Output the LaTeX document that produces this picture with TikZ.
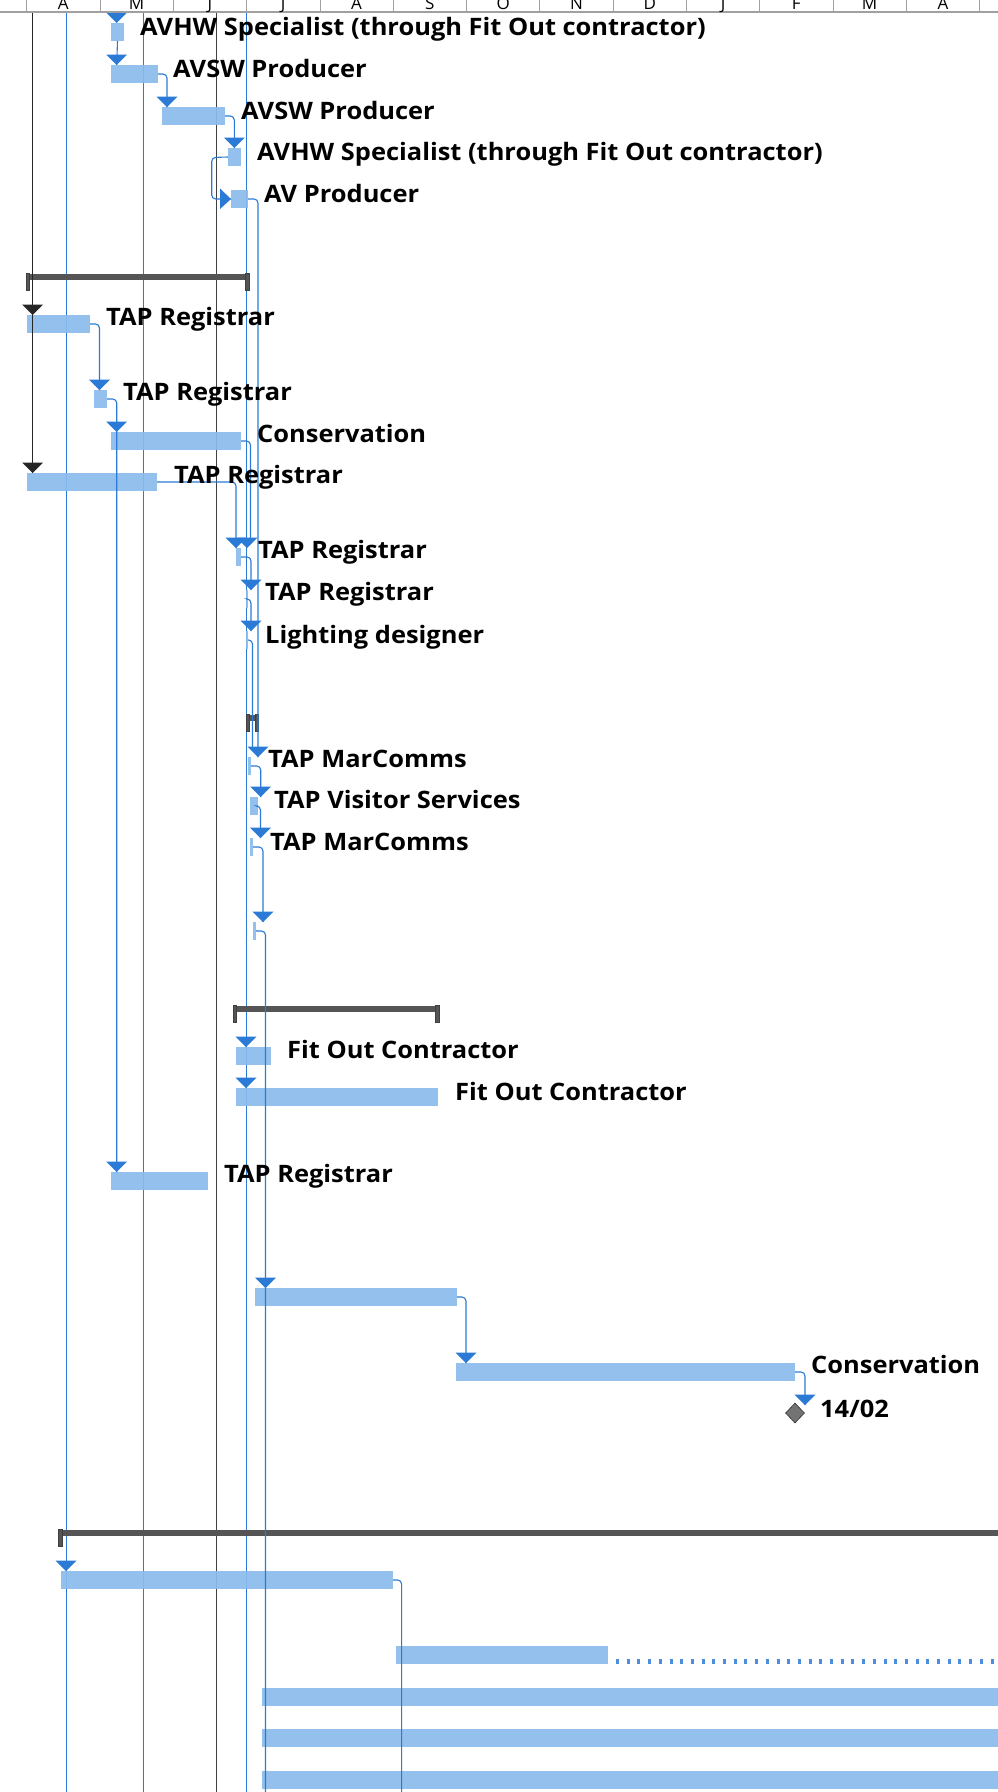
\documentclass[tikz,border=0pt]{standalone}
\usepackage{fontspec}
\setmainfont{Open Sans}
\newfontfamily\lblfont[FakeStretch=1.06]{Open Sans}
\usetikzlibrary{shapes.geometric}
\definecolor{barblue}{HTML}{8ABBEB}
\definecolor{linkblue}{HTML}{2B7BD6}
\definecolor{sumgray}{HTML}{555555}
\definecolor{hdrgray}{HTML}{A0A0A0}
\tikzset{
  gbar/.style={rectangle, fill=barblue, fill opacity=0.92, inner sep=0pt, outer sep=0pt, minimum height=18pt, anchor=north west},
  sumline/.style={rectangle, fill=sumgray, inner sep=0pt, outer sep=0pt, minimum height=6pt, anchor=north west},
  sumcap/.style={rectangle, fill=sumgray, draw=black!75, line width=0.6pt, inner sep=0pt, outer sep=0pt, minimum width=3.5pt, minimum height=17pt, anchor=north west},
  link/.style={draw=linkblue, line width=1.1pt, rounded corners=4pt},
  longline/.style={draw=linkblue, line width=1pt},
  blackline/.style={draw=black!85, line width=1.3pt},
  greyline/.style={draw=black!75, line width=0.9pt},
  lbl/.style={anchor=base west, inner sep=0pt, font=\lblfont\bfseries\fontsize{24}{24}\selectfont},
  hdrtxt/.style={anchor=base, inner sep=0pt, font=\fontsize{17}{17}\selectfont},
}
\newcommand\ganttbar[4]{\node[gbar, minimum width={#3-#2}] (#1) at (#2,#4) {};}
\newcommand\ganttarrow[3]{\fill[#3] (#1-10.5,#2-10.5) -- (#1+10.5,#2-10.5) -- (#1,#2) -- cycle;}
\newcommand\summarybar[4]{%
  \node[sumline, minimum width={#3-#2}] (#1) at (#2,#4) {};
  \node[sumcap] (#1l) at (#2,#4-1) {};
  \node[sumcap] (#1r) at (#3-3.5,#4-1) {};}
\begin{document}
\begin{tikzpicture}[x=1pt,y=-1pt]
\useasboundingbox (0,0) rectangle (998,1792);
\clip (0,0) rectangle (998,1792);
\fill[white] (0,0) rectangle (998,1792);

% ---------- long vertical lines ----------
\coordinate (top1) at (66.7,12);  \coordinate (bot1) at (66.7,1792);
\coordinate (top2) at (143.3,12); \coordinate (bot2) at (143.3,1792);
\coordinate (top3) at (216,12);   \coordinate (bot3) at (216,1792);
\coordinate (top4) at (246,12);   \coordinate (bot4) at (246,1792);
\coordinate (top0) at (32.7,12);
\draw[longline] (top1) -- (bot1);
\draw[longline] (top2) -- (bot2);
\draw[greyline] (top3) -- (bot3);
\draw[longline] (top4) -- (bot4);

% ---------- arrow tip coordinates ----------
\coordinate (t0) at (116.7,23);
\coordinate (t1) at (116.7,65);
\coordinate (t2) at (167,107);
\coordinate (t3) at (234.3,148);
\coordinate (t4) at (231,199);
\coordinate (t7) at (32.7,315);
\coordinate (t8) at (99.5,390);
\coordinate (t9) at (116.7,432);
\coordinate (t10) at (32.7,473);
\coordinate (t11a) at (236,548);
\coordinate (t11b) at (247,548);
\coordinate (t12) at (251,590);
\coordinate (t13) at (251,631);
\coordinate (t15) at (258,757);
\coordinate (t16) at (260.7,797);
\coordinate (t17) at (260.5,838);
\coordinate (t19) at (263,922);
\coordinate (t22) at (246,1047);
\coordinate (t23) at (246,1088);
\coordinate (t25) at (116.7,1172);
\coordinate (t27) at (265.5,1288);
\coordinate (t28) at (466,1363);
\coordinate (tms) at (805,1405);
\coordinate (t32) at (66,1571);
\coordinate (bot5) at (265.5,1792);
\coordinate (bot6) at (401.6,1792);

% ---------- bars ----------
\ganttbar{b0}{111}{124}{23}
\ganttbar{b1}{111}{158}{65}
\ganttbar{b2}{162}{225}{107}
\ganttbar{b3}{228}{241}{148}
\ganttbar{b4}{231}{248}{190}
\ganttbar{b7}{27}{90}{315}
\ganttbar{b8}{94}{107}{390}
\ganttbar{b9}{111}{241}{432}
\ganttbar{b10}{27}{157}{473}
\ganttbar{b11}{236}{241}{548}
\ganttbar{b12}{246}{248}{590}
\ganttbar{b13}{246}{248}{631}
\ganttbar{b15}{248}{251}{757}
\ganttbar{b16}{250}{258}{797}
\ganttbar{b17}{250}{253}{838}
\ganttbar{b19}{253}{256}{922}
\ganttbar{b22}{236}{271}{1047}
\ganttbar{b23}{236}{438}{1088}
\ganttbar{b25}{111}{208}{1172}
\ganttbar{b27}{255}{457}{1288}
\ganttbar{b28}{456}{795}{1363}
\ganttbar{b32}{60.5}{393}{1571}
\ganttbar{b34}{396}{608}{1646}
\ganttbar{b35}{262}{1010}{1688}
\ganttbar{b36}{262}{1010}{1729}
\ganttbar{b37}{262}{1010}{1771}

% ---------- summary bars ----------
\summarybar{s1}{26}{249}{274}
\summarybar{s2}{246}{258.5}{715}
\summarybar{s3}{233}{439}{1006}
\node[sumline, minimum width=960pt] (s4) at (58.6,1530) {};
\node[sumcap] (s4l) at (58.6,1529) {};

% ---------- milestone ----------
\node[diamond, fill=black!55, draw=black!80, line width=0.6pt, minimum width=19pt, minimum height=20pt, inner sep=0pt] (ms) at (795,1413) {};

% ---------- links ----------
\draw[blackline] (top0) -- (t10);
\draw[link] (b0.south) -- (t1);
\draw[link] (b1.east) -| (t2);
\draw[link] (b2.east) -| (t3);
\draw[link] (b3.west) -- (211.7,157.5) |- (t4);
\draw[link] (b4.east) -| (t15);
\draw[link] (b7.east) -| (t8);
\draw[link] (b8.east) -| (t25);
\draw[link] (b10.east) -| (t11a);
\draw[link] (b9.east) -| (250.5,540);
\draw[link] (b11.east) -| (t12);
\draw[link] (b12.east) -| (t13);
\draw[link] (b13.east) -| (252.5,748);
\draw[link] (b15.east) -| (t16);
\draw[link] (b16.east) -| (t17);
\draw[link] (b17.east) -| (t19);
\draw[link] (b19.east) -| (bot5);
\draw[link] (b27.east) -| (t28);
\draw[link] (b28.east) -| (tms);
\draw[link] (b32.east) -| (bot6);
\draw[draw=linkblue!85, line width=5pt, dash pattern=on 3pt off 7.7pt] (616,1661) -- (1000,1661);

% ---------- arrows ----------
\ganttarrow{116.7}{23}{linkblue}
\ganttarrow{116.7}{65}{linkblue}
\ganttarrow{167}{107}{linkblue}
\ganttarrow{234.3}{148}{linkblue}
\fill[linkblue] (220,188.5) -- (220,209) -- (231,199) -- cycle;
\ganttarrow{32.7}{315}{black!85}
\ganttarrow{99.5}{390}{linkblue}
\ganttarrow{116.7}{432}{linkblue}
\ganttarrow{32.7}{473}{black!85}
\ganttarrow{236}{548}{linkblue}
\ganttarrow{247}{548}{linkblue}
\ganttarrow{251}{590}{linkblue}
\ganttarrow{251}{631}{linkblue}
\ganttarrow{258}{757}{linkblue}
\ganttarrow{260.7}{797}{linkblue}
\ganttarrow{260.5}{838}{linkblue}
\ganttarrow{263}{922}{linkblue}
\ganttarrow{246}{1047}{linkblue}
\ganttarrow{246}{1088}{linkblue}
\ganttarrow{116.7}{1172}{linkblue}
\ganttarrow{265.5}{1288}{linkblue}
\ganttarrow{466}{1363}{linkblue}
\ganttarrow{805}{1405}{linkblue}
\ganttarrow{66}{1571}{linkblue}

% ---------- labels ----------
\node[lbl] (l0) at (140,35) {AVHW Specialist (through Fit Out contractor)};
\node[lbl] (l1) at (173,77) {AVSW Producer};
\node[lbl] (l2) at (241,119) {AVSW Producer};
\node[lbl] (l3) at (257,160) {AVHW Specialist (through Fit Out contractor)};
\node[lbl] (l4) at (264,202) {AV Producer};
\node[lbl] (l7) at (106,325) {TAP Registrar};
\node[lbl] (l8) at (123,400) {TAP Registrar};
\node[lbl] (l9) at (257,442) {Conservation};
\node[lbl] (l10) at (174,483) {TAP Registrar};
\node[lbl] (l11) at (258,558) {TAP Registrar};
\node[lbl] (l12) at (265,600) {TAP Registrar};
\node[lbl] (l13) at (265,643) {Lighting designer};
\node[lbl] (l15) at (268,767) {TAP MarComms};
\node[lbl] (l16) at (274,808) {TAP Visitor Services};
\node[lbl] (l17) at (270,850) {TAP MarComms};
\node[lbl] (l22) at (287,1058) {Fit Out Contractor};
\node[lbl] (l23) at (455,1100) {Fit Out Contractor};
\node[lbl] (l25) at (224,1182) {TAP Registrar};
\node[lbl] (l28) at (811,1373) {Conservation};
\node[lbl] (lms) at (820,1417) {14/02};

% ---------- header ----------
\fill[white] (0,0) rectangle (998,12);
\foreach \k in {0,...,13} \draw[hdrgray, line width=0.8pt] (26.7+73.3*\k,0) -- (26.7+73.3*\k,12);
\draw[hdrgray, line width=1.2pt] (0,12) -- (998,12);
\foreach \m [count=\i from 0] in {A,M,J,J,A,S,O,N,D,J,F,M,A}
  \node[hdrtxt] (h\i) at (63.35+73.3*\i,9.8) {\m};
\end{tikzpicture}
\end{document}
